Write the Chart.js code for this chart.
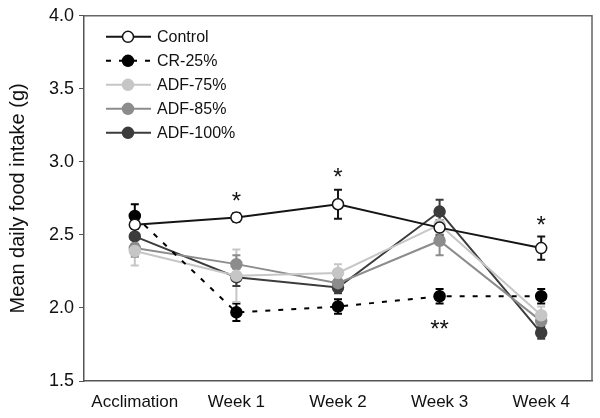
<!DOCTYPE html>
<html>
<head>
<meta charset="utf-8">
<script src="https://cdn.jsdelivr.net/npm/chart.js@4/dist/chart.umd.min.js"></script>
<style>
  body { margin: 0; background: #fff; }
  #wrap { width: 600px; height: 418px; }
</style>
</head>
<body>
<div id="wrap"><canvas id="foodChart"></canvas></div>
<script>
const categories = ['Acclimation', 'Week 1', 'Week 2', 'Week 3', 'Week 4'];
const yTicks = [1.5, 2.0, 2.5, 3.0, 3.5, 4.0];

const control = [2.57, 2.62, 2.71, 2.55, 2.41];
const controlErr = [0.06, 0.03, 0.10, 0.05, 0.08];
const cr25 = [2.63, 1.97, 2.01, 2.08, 2.08];
const cr25Err = [0.08, 0.06, 0.05, 0.05, 0.05];
const adf75 = [2.39, 2.22, 2.24, 2.57, 1.95];
const adf75Err = [0.10, 0.18, 0.06, 0.06, 0.06];
const adf85 = [2.41, 2.30, 2.17, 2.46, 1.91];
const adf85Err = [0.06, 0.06, 0.04, 0.10, 0.05];
const adf100 = [2.49, 2.21, 2.14, 2.66, 1.83];
const adf100Err = [0.05, 0.06, 0.04, 0.08, 0.04];

// significance marks: [category index, value, label]
const sigMarks = [[1, 2.76, '*'], [2, 2.92, '*'], [4, 2.59, '*'], [3, 1.88, '**']];

const FONT = '"Liberation Sans", Arial, sans-serif';

function series(label, data, err, color, fill, dash) {
    return {
        label: label,
        data: data,
        err: err,
        borderColor: color,
        backgroundColor: fill,
        pointBackgroundColor: fill,
        pointBorderColor: color,
        pointBorderWidth: 1.5,
        pointRadius: 5.5,
        borderWidth: 2,
        borderDash: dash || [],
        tension: 0,
    };
}

const errorBars = {
    id: 'errorBars',
    beforeDatasetsDraw(chart) {
        const ctx = chart.ctx;
        const y = chart.scales.y;
        chart.data.datasets.forEach((ds, i) => {
            const meta = chart.getDatasetMeta(i);
            ctx.save();
            ctx.strokeStyle = ds.borderColor;
            ctx.lineWidth = 2;
            meta.data.forEach((pt, j) => {
                const top = y.getPixelForValue(ds.data[j] + ds.err[j]);
                const bot = y.getPixelForValue(ds.data[j] - ds.err[j]);
                ctx.beginPath();
                ctx.moveTo(pt.x, top); ctx.lineTo(pt.x, bot);
                ctx.moveTo(pt.x - 4, top); ctx.lineTo(pt.x + 4, top);
                ctx.moveTo(pt.x - 4, bot); ctx.lineTo(pt.x + 4, bot);
                ctx.stroke();
            });
            ctx.restore();
        });
    }
};

const extras = {
    id: 'extras',
    afterDraw(chart) {
        const ctx = chart.ctx;
        const a = chart.chartArea;
        const x = chart.scales.x, y = chart.scales.y;
        ctx.save();
        // box
        ctx.strokeStyle = '#666';
        ctx.lineWidth = 1.5;
        ctx.beginPath();
        ctx.moveTo(a.left, a.top); ctx.lineTo(a.right, a.top); ctx.lineTo(a.right, a.bottom);
        ctx.stroke();
        // asterisks
        ctx.fillStyle = '#111';
        ctx.font = '24px ' + FONT;
        ctx.textAlign = 'center';
        ctx.textBaseline = 'middle';
        sigMarks.forEach(m => {
            ctx.fillText(m[2], x.getPixelForValue(m[0]), y.getPixelForValue(m[1]) + 5);
        });
        // legend
        ctx.font = '16px ' + FONT;
        ctx.textAlign = 'left';
        chart.data.datasets.forEach((ds, i) => {
            const ly = a.top + 21 + i * 24;
            ctx.strokeStyle = ds.borderColor;
            ctx.lineWidth = 2;
            ctx.setLineDash(ds.borderDash);
            ctx.beginPath();
            ctx.moveTo(106, ly); ctx.lineTo(151, ly);
            ctx.stroke();
            ctx.setLineDash([]);
            ctx.beginPath();
            ctx.arc(128, ly, 5.5, 0, Math.PI * 2);
            ctx.fillStyle = ds.pointBackgroundColor;
            ctx.fill();
            ctx.lineWidth = 1.5;
            ctx.stroke();
            ctx.fillStyle = '#111';
            ctx.fillText(ds.label, 157, ly + 1);
        });
        ctx.restore();
    }
};

new Chart(document.getElementById('foodChart').getContext('2d'), {
    type: 'line',
    data: {
        labels: categories,
        datasets: [
            series('Control', control, controlErr, '#151515', '#ffffff'),
            series('CR-25%', cr25, cr25Err, '#000000', '#000000', [5, 8]),
            series('ADF-75%', adf75, adf75Err, '#c6c6c6', '#c6c6c6'),
            series('ADF-85%', adf85, adf85Err, '#8c8c8c', '#8c8c8c'),
            series('ADF-100%', adf100, adf100Err, '#3c3c3c', '#3c3c3c'),
        ]
    },
    options: {
        responsive: true,
        maintainAspectRatio: false,
        animation: false,
        layout: { padding: { top: 12, right: 8, left: 0, bottom: 0 } },
        plugins: { legend: { display: false }, tooltip: { enabled: false } },
        scales: {
            x: {
                offset: true,
                grid: { display: false, drawTicks: false },
                border: { color: '#555', width: 1.5 },
                ticks: { color: '#111', padding: 11, font: { size: 17, family: FONT } },
                afterFit(scale) { scale.height = 37; }
            },
            y: {
                min: 1.5,
                max: 4.0,
                afterBuildTicks(scale) { scale.ticks = yTicks.map(v => ({ value: v })); },
                grid: { drawOnChartArea: false, drawTicks: true, tickLength: 5, color: '#555' },
                border: { color: '#555', width: 1.5 },
                ticks: {
                    color: '#111',
                    padding: 5,
                    font: { size: 18, family: FONT },
                    callback: v => v.toFixed(1)
                },
                title: {
                    display: true,
                    text: 'Mean daily food intake (g)',
                    color: '#111',
                    padding: { top: 6, bottom: 0 },
                    font: { size: 20, family: FONT }
                },
                afterFit(scale) { scale.width = 84; }
            }
        }
    },
    plugins: [errorBars, extras]
});
</script>
</body>
</html>
